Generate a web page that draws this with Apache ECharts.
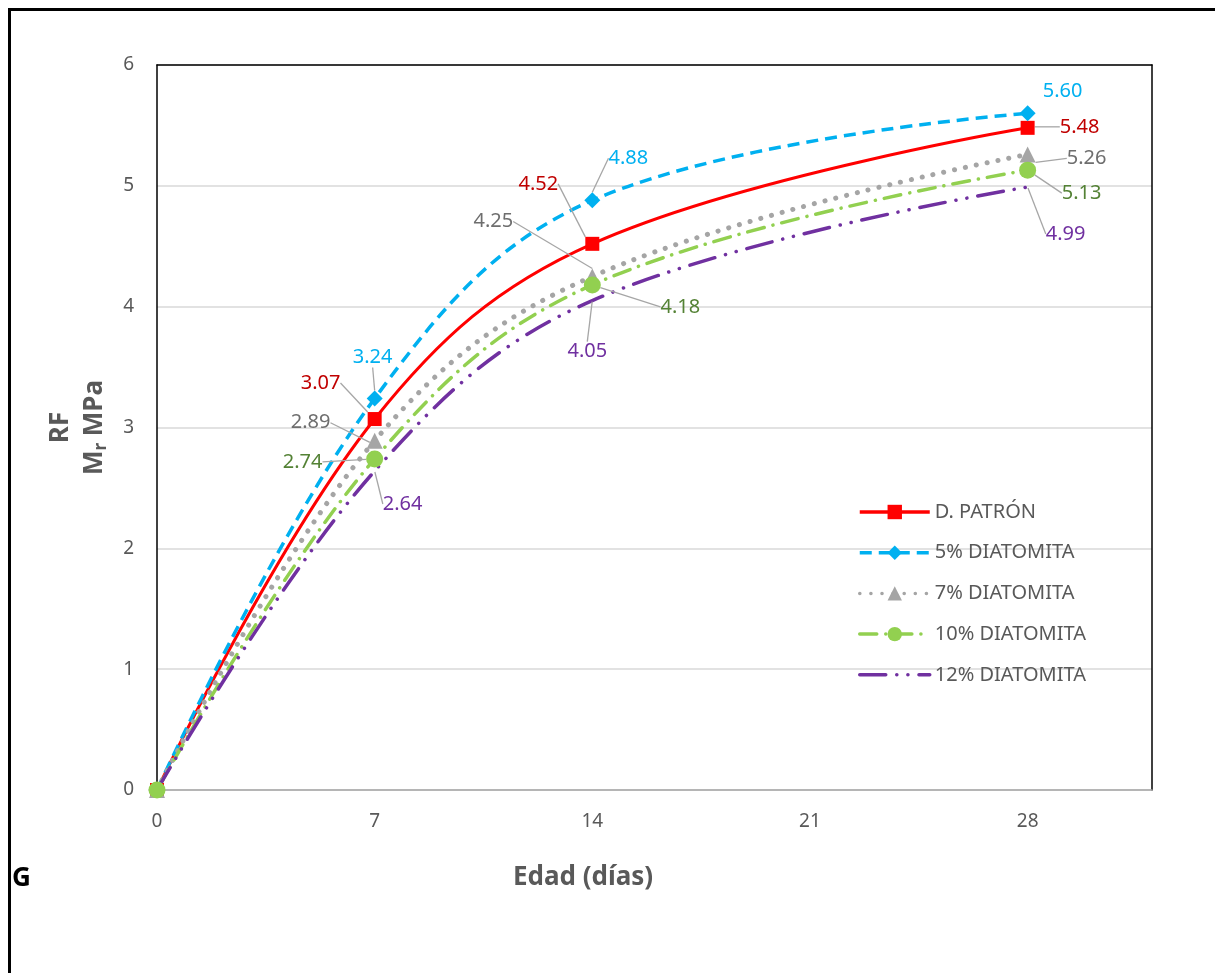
<!DOCTYPE html>
<html>
<head>
<meta charset="utf-8">
<title>RF Mr vs Edad</title>
<script src="https://cdn.jsdelivr.net/npm/echarts@6/dist/echarts.min.js"></script>
<style>
html, body { margin: 0; padding: 0; background: #fff; overflow: hidden; }
#frame {
  position: absolute; left: 8px; top: 8px; width: 1400px; height: 1100px;
  border-left: 3px solid #000; border-top: 3px solid #000;
}
#chart { position: absolute; left: 0; top: 0; width: 1215px; height: 973px; }
</style>
</head>
<body>
<div id="frame"></div>
<div id="chart"></div>
<script>
// datos (edad en días, RF Mr en MPa)
const dias = [0, 7, 14, 28];
const patron = [0, 3.07, 4.52, 5.48];
const diat5 = [0, 3.24, 4.88, 5.60];
const diat7 = [0, 2.89, 4.25, 5.26];
const diat10 = [0, 2.74, 4.18, 5.13];
const diat12 = [0, 2.64, 4.05, 4.99];
const nombres = ['D. PATRÓN', '5% DIATOMITA', '7% DIATOMITA', '10% DIATOMITA', '12% DIATOMITA'];
const xTicks = [0, 7, 14, 21, 28];
const yTicks = [0, 1, 2, 3, 4, 5, 6];

// estilos por serie
const FONT = 'Noto Sans';
const estilos = [
  { color: '#FF0000', text: '#C00000', type: 'solid', cap: 'butt', width: 3, symbol: 'rect', size: 14 },
  { color: '#00B0F0', text: '#00B0F0', type: [12, 7], cap: 'butt', width: 3.5, symbol: 'diamond', size: 16 },
  { color: '#A5A5A5', text: '#6E6E6E', type: [0.1, 11], cap: 'round', width: 5, symbol: 'triangle', size: 16 },
  { color: '#92D050', text: '#548235', type: [17, 9, 0.1, 9], cap: 'round', width: 3.5, symbol: 'circle', size: 17 },
  { color: '#7030A0', text: '#7030A0', type: [26, 11, 0.1, 11, 0.1, 11], cap: 'round', width: 3.5, symbol: 'circle', size: 2 }
];
// desplazamiento de etiquetas [dx, dy] respecto al punto; linea guía opcional
const labelShift = [
  [null, [-54, -36], [-54, -60], [52, -1]],
  [null, [-2, -41], [36, -42], [35, -22]],
  [null, [-64, -18], [-99, -55], [59, 4]],
  [null, [-72, 3], [88, 22], [54, 23]],
  [null, [28, 33], [-5, 51], [38, 47]]
];
const sinGuia = [[1, 3]];

const valores = [patron, diat5, diat7, diat10, diat12];

const chart = echarts.init(document.getElementById('chart'));

const series = valores.map(function (vals, i) {
  const st = estilos[i];
  return {
    name: nombres[i],
    type: 'line',
    smooth: 0.38,
    symbol: st.symbol,
    symbolSize: st.size,
    data: dias.map(function (d, j) {
      const guia = !sinGuia.some(function (g) { return g[0] === i && g[1] === j; });
      return { value: [d, vals[j]], labelLine: { show: guia } };
    }),
    lineStyle: { color: st.color, width: st.width, type: st.type, cap: st.cap },
    itemStyle: { color: i === 4 ? 'rgba(0,0,0,0)' : st.color },
    label: {
      show: true,
      position: 'inside',
      fontFamily: FONT,
      fontSize: 20,
      color: st.text,
      formatter: function (p) { return p.dataIndex === 0 ? '' : p.value[1].toFixed(2); }
    },
    labelLine: { show: true, lineStyle: { color: '#A6A6A6', width: 1.3 } },
    labelLayout: function (p) {
      const s = labelShift[p.seriesIndex][p.dataIndex];
      if (!s) return {};
      return { dx: s[0], dy: s[1] };
    },
    emphasis: { disabled: true }
  };
});

const option = {
  animation: false,
  backgroundColor: 'transparent',
  textStyle: { fontFamily: FONT },
  grid: { left: 157, top: 65, right: 63, bottom: 183 },
  legend: {
    orient: 'vertical',
    left: 858,
    top: 502,
    padding: 0,
    itemWidth: 70,
    itemHeight: 18,
    itemGap: 20.7,
    data: nombres,
    lineStyle: { width: 3.5 },
    textStyle: { fontFamily: FONT, fontSize: 20, color: '#595959' }
  },
  xAxis: [
    {
      type: 'value',
      min: 0,
      max: 32,
      interval: 7,
      name: 'Edad (días)',
      nameLocation: 'middle',
      nameGap: 75,
      nameTextStyle: { fontFamily: FONT, fontSize: 26, fontWeight: 'bold', color: '#595959', padding: [0, 143, 0, 0] },
      axisLine: { show: true, onZero: false, lineStyle: { color: '#A6A6A6', width: 1.5 } },
      axisTick: { show: false },
      axisLabel: {
        showMaxLabel: false, margin: 22, fontFamily: FONT, fontSize: 19, color: '#595959',
        formatter: function (v) { return xTicks.indexOf(v) >= 0 ? String(v) : ''; }
      },
      splitLine: { show: false }
    },
    {
      type: 'value', position: 'top', min: 0, max: 32,
      axisLine: { show: true, onZero: false, lineStyle: { color: '#000', width: 1.5 } },
      axisTick: { show: false }, axisLabel: { show: false }, splitLine: { show: false }
    }
  ],
  yAxis: [
    {
      type: 'value',
      min: 0,
      max: 6,
      interval: 1,
      name: '{b|RF}\n{b|M}{s|r}{b| MPa}',
      nameLocation: 'middle',
      nameGap: 45,
      nameTextStyle: {
        color: '#595959',
        rich: {
          b: { fontFamily: FONT, fontSize: 26, fontWeight: 'bold', color: '#595959', lineHeight: 34 },
          s: { fontFamily: FONT, fontSize: 17, fontWeight: 'bold', color: '#595959', lineHeight: 34, padding: [12, 0, 0, 0] }
        }
      },
      axisLine: { show: true, onZero: false, lineStyle: { color: '#000', width: 1.5 } },
      axisTick: { show: false },
      axisLabel: {
        margin: 23, fontFamily: FONT, fontSize: 19, color: '#595959',
        formatter: function (v) { return yTicks.indexOf(v) >= 0 ? String(v) : ''; }
      },
      splitLine: { show: true, lineStyle: { color: '#D9D9D9', width: 1.5 } }
    },
    {
      type: 'value', position: 'right', min: 0, max: 6,
      axisLine: { show: true, onZero: false, lineStyle: { color: '#000', width: 1.5 } },
      axisTick: { show: false }, axisLabel: { show: false }, splitLine: { show: false }
    }
  ],
  graphic: [
    {
      type: 'text',
      left: 12,
      top: 866,
      style: { text: 'G', fontFamily: FONT, fontSize: 26, fontWeight: 'bold', fill: '#000' }
    }
  ],
  series: series
};

chart.setOption(option);
</script>
</body>
</html>
